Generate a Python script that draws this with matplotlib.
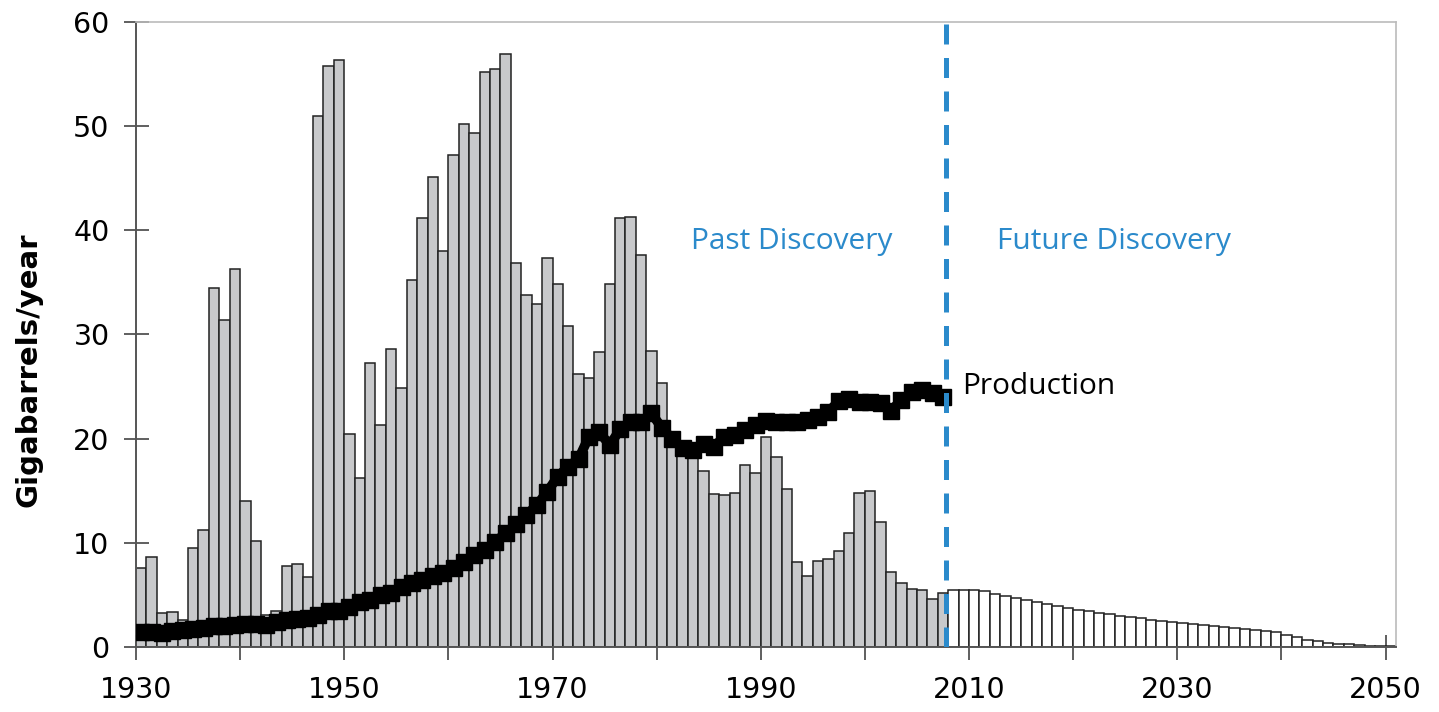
import numpy as np
import matplotlib
matplotlib.use("Agg")
from matplotlib import pyplot as plt

# discovery per year, gigabarrels (past: 1930-2007, future: 2008-2050)
past_years = list(range(1930, 2008))
past_discovery = [
    7.6, 8.6, 3.3, 3.4, 2.6, 9.5, 11.2, 34.5, 31.4, 36.3,
    14.0, 10.2, 3.1, 3.5, 7.8, 8.0, 6.7, 51.0, 55.8, 56.4,
    20.4, 16.2, 27.3, 21.3, 28.6, 24.9, 35.2, 41.2, 45.1, 38.0,
    47.2, 50.2, 49.3, 55.2, 55.5, 56.9, 36.9, 33.8, 32.9, 37.3,
    34.8, 30.8, 26.2, 25.8, 28.3, 34.8, 41.2, 41.3, 37.6, 28.4,
    25.3, 20.0, 18.3, 18.2, 16.9, 14.7, 14.6, 14.8, 17.5, 16.7,
    20.2, 18.2, 15.2, 8.2, 6.8, 8.3, 8.4, 9.2, 10.9, 14.8,
    15.0, 12.0, 7.2, 6.1, 5.6, 5.5, 4.6, 5.2,
]
future_years = list(range(2008, 2051))
future_discovery = [
    5.44, 5.44, 5.44, 5.34, 5.06, 4.86, 4.67, 4.48, 4.29, 4.10,
    3.90, 3.74, 3.58, 3.42, 3.26, 3.14, 2.98, 2.85, 2.75, 2.62,
    2.53, 2.40, 2.30, 2.18, 2.08, 1.98, 1.89, 1.82, 1.73, 1.66,
    1.57, 1.47, 1.12, 0.93, 0.70, 0.54, 0.42, 0.32, 0.26, 0.19,
    0.13, 0.10, 0.06,
]
production = [
    1.47, 1.41, 1.31, 1.5, 1.6, 1.7, 1.79, 2.0, 2.0, 2.14,
    2.23, 2.23, 2.14, 2.4, 2.56, 2.72, 2.78, 3.04, 3.43, 3.43,
    3.84, 4.32, 4.51, 4.99, 5.15, 5.8, 6.1, 6.4, 6.8, 7.07,
    7.55, 8.13, 8.83, 9.31, 10.11, 10.91, 11.78, 12.67, 13.63, 14.91,
    16.35, 17.31, 18.05, 20.19, 20.6, 19.39, 20.9, 21.63, 21.63, 22.43,
    21.05, 19.97, 19.07, 18.9, 19.45, 19.23, 20.19, 20.35, 20.83, 21.31,
    21.7, 21.57, 21.57, 21.63, 21.79, 22.11, 22.59, 23.6, 23.8, 23.55,
    23.55, 23.39, 22.66, 23.71, 24.45, 24.64, 24.35, 23.97,
]

blue = "#2B8ACB"
note_font = ["Open Sans", "DejaVu Sans"]

fig = plt.figure(figsize=(14.39, 7.12), dpi=100)
ax = fig.add_axes([0.0945, 0.0913, 0.8756, 0.8778])

ax.bar(past_years, past_discovery, width=1, align="edge",
       color="#C8C9CB", edgecolor="#222222", linewidth=1.1, zorder=2)
ax.bar(future_years, future_discovery, width=1, align="edge",
       color="white", edgecolor="#222222", linewidth=1.1, zorder=2)

ax.plot(np.array(past_years) + 0.5, production, color="black", lw=7,
        marker="s", ms=12, mec="black", mfc="black", zorder=3)

ax.axvline(2007.8, color=blue, lw=3.6, dashes=(4, 2.7), zorder=4)

ax.text(1993.0, 38.9, "Past Discovery", color=blue, fontsize=21.5,
        family=note_font, ha="center", va="center")
ax.text(2023.9, 38.9, "Future Discovery", color=blue, fontsize=21.5,
        family=note_font, ha="center", va="center")
ax.text(2009.3, 25.0, "Production", color="black", fontsize=21.5,
        family=note_font, ha="left", va="center")

ax.set_xlim(1930, 2051)
ax.set_ylim(0, 60)
xt = list(range(1930, 2051, 10))
ax.set_xticks(xt)
ax.set_xticklabels([str(t) if (t - 1930) % 20 == 0 else "" for t in xt])
ax.set_yticks(range(0, 61, 10))
ax.tick_params(axis="both", direction="inout", length=18, width=1.2,
               color="#444444", labelsize=20.5, pad=10)
ax.tick_params(axis="x", pad=12)

ax.set_ylabel("Gigabarrels/year", fontsize=21, fontweight="bold")
ax.yaxis.set_label_coords(-0.074, 0.443)

for s in ["left", "bottom"]:
    ax.spines[s].set_color("#555555")
    ax.spines[s].set_linewidth(1.4)
for s in ["top", "right"]:
    ax.spines[s].set_color("#BBBBBB")
    ax.spines[s].set_linewidth(1.2)

fig.savefig("out.png", dpi=100)
